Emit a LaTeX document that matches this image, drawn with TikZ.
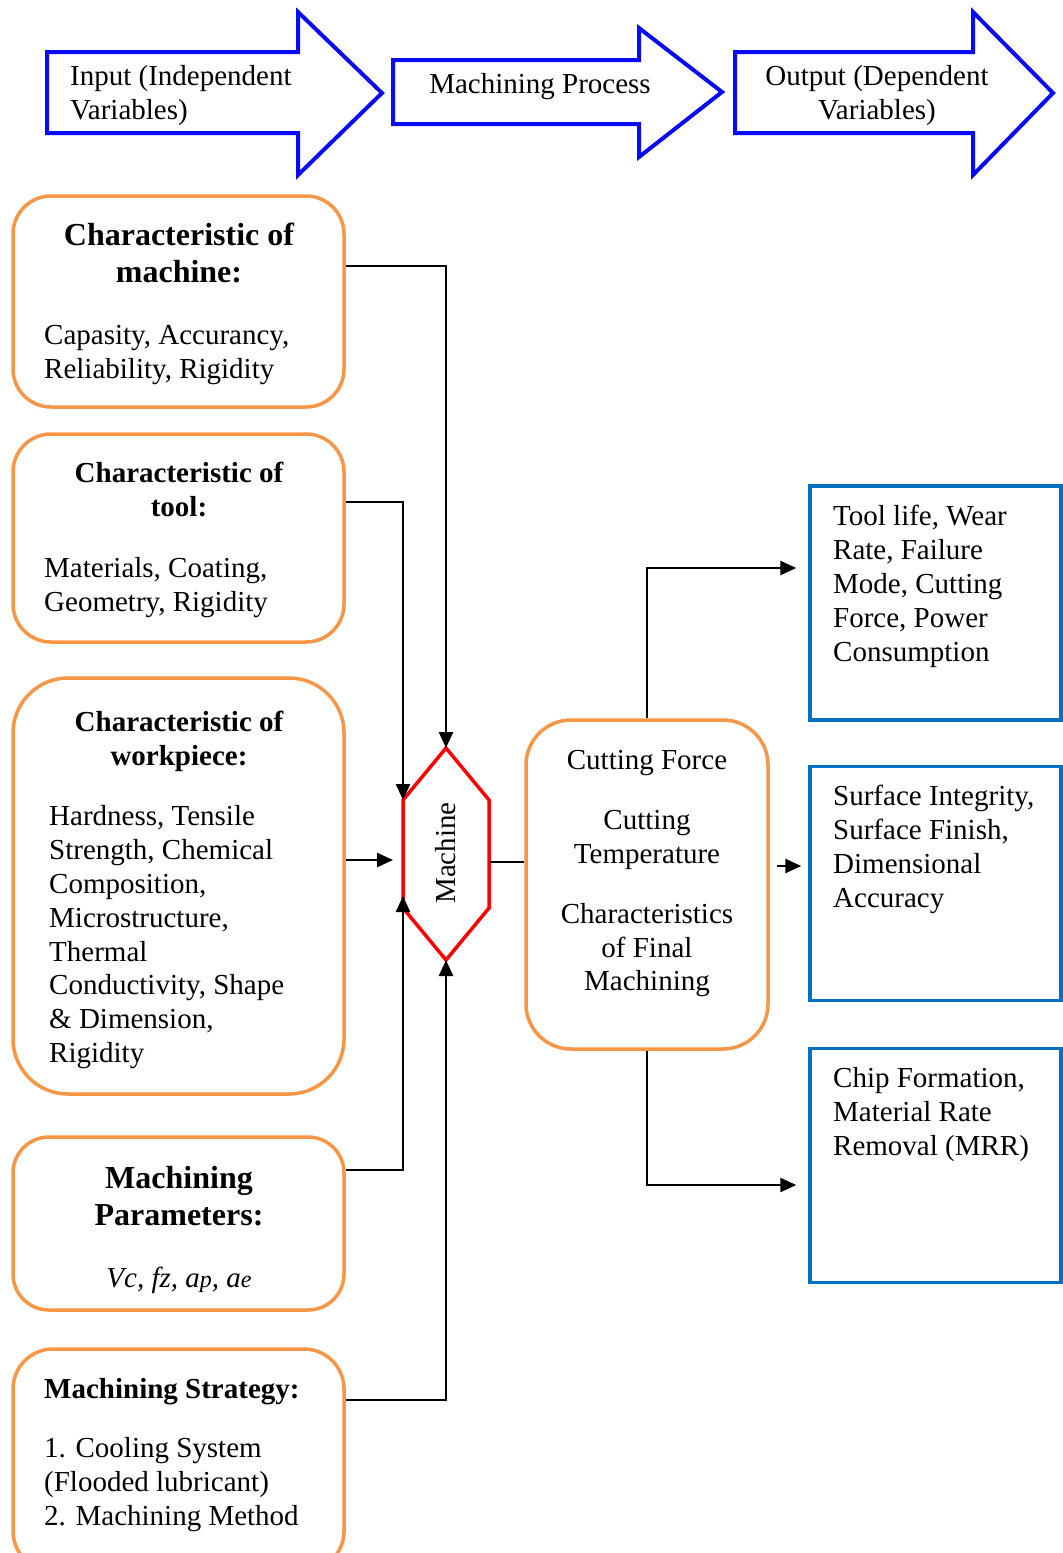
\documentclass[tikz,border=0pt]{standalone}
\usepackage{fontspec}
\setmainfont{Liberation Serif}
\usetikzlibrary{arrows.meta}
\definecolor{orng}{HTML}{F79646}
\definecolor{arrblue}{HTML}{0A0AF5}
\definecolor{boxblue}{HTML}{0070C0}
\definecolor{hexred}{HTML}{FF0000}
\newcommand\myfs{\fontsize{29}{33.8}\selectfont}
\newcommand\mybig{\fontsize{32}{36.5}\selectfont\bfseries}
\newcommand\mybold{\fontsize{29}{34.5}\selectfont\bfseries}
\begin{document}
\begin{tikzpicture}[x=1pt,y=-1pt,
  obox/.style={draw=orng, line width=3.5pt, minimum width=331pt, inner sep=0pt},
  bbox/.style={draw=boxblue, line width=3.5pt, minimum width=251pt, minimum height=234pt, inner sep=0pt},
  bigarrow/.style={draw=arrblue, line width=4pt, line join=miter},
  hexa/.style={draw=hexred, line width=3.5pt, line join=miter},
  conn/.style={line width=2.4pt, -{Triangle[length=16pt,width=14pt]}},
  plainline/.style={line width=2.2pt},
  ltxt/.style={inner sep=0pt, font=\myfs, align=left, anchor=north west},
  ctxt/.style={inner sep=0pt, font=\myfs, align=center, anchor=north},
]
\clip (0,0) rectangle (1063,1553);

% top arrows
\draw[bigarrow] (47,52) -- (298,52) -- (298,12) -- (382,93) -- (298,175) -- (298,133) -- (47,133) -- cycle;
\draw[bigarrow] (393,60) -- (639,60) -- (639,28) -- (722,92) -- (639,157) -- (639,124) -- (393,124) -- cycle;
\draw[bigarrow] (735,52) -- (973,52) -- (973,12) -- (1053,93) -- (973,175) -- (973,133) -- (735,133) -- cycle;
\node[ltxt] (tin) at (70,62) {\strut Input (Independent\\Variables)};
\node[ctxt] (tproc) at (540,70) {\strut Machining Process};
\node[ctxt] (tout) at (877,62) {\strut Output (Dependent\\Variables)};

% left orange boxes
\node[obox, minimum height=211pt, rounded corners=38pt] (box1) at (178.5,301.5) {};
\node[obox, minimum height=208pt, rounded corners=38pt] (box2) at (178.5,538) {};
\node[obox, minimum height=416pt, rounded corners=55pt] (box3) at (178.5,886) {};
\node[obox, minimum height=173pt, rounded corners=36pt] (box4) at (178.5,1223.5) {};
\node[obox, minimum height=222pt, rounded corners=40pt] (box5) at (178.5,1460) {};

\node[ctxt, font=\mybig] (t1h) at (179,220) {\strut Characteristic of\\machine:};
\node[ltxt] (t1b) at (44,321) {\strut Capasity, Accurancy,\\Reliability, Rigidity};
\node[ctxt, font=\mybold] (t2h) at (179,458) {\strut Characteristic of\\tool:};
\node[ltxt] (t2b) at (44,554) {\strut Materials, Coating,\\Geometry, Rigidity};
\node[ctxt, font=\mybold] (t3h) at (179,707) {\strut Characteristic of\\workpiece:};
\node[ltxt] (t3b) at (49,802) {\strut Hardness, Tensile\\Strength, Chemical\\Composition,\\Microstructure,\\Thermal\\Conductivity, Shape\\\& Dimension,\\Rigidity};
\node[ctxt, font=\mybig] (t4h) at (179,1163) {\strut Machining\\Parameters:};
\node[ctxt] (t4b) at (179,1264) {\strut\itshape Vc, fz, a{\fontsize{24}{24}\selectfont p}, a{\fontsize{24}{24}\selectfont e}};
\node[ltxt, font=\mybold] (t5h) at (44,1374) {\strut Machining Strategy:};
\node[ltxt] (t5b) at (44,1434) {\strut 1. Cooling System\\(Flooded lubricant)\\2. Machining Method};

% hexagon
\coordinate (htop) at (446,748);
\coordinate (hur) at (489,800);
\coordinate (hlr) at (489,908);
\coordinate (hbot) at (446,960);
\coordinate (hll) at (403,908);
\coordinate (hul) at (403,800);
\coordinate (hmr) at (489,862);
\coordinate (hin) at (393,860);
\coordinate (hlin) at (403,896);
\draw[hexa] (htop) -- (hur) -- (hlr) -- (hbot) -- (hll) -- (hul) -- cycle;
\node[inner sep=0pt, font=\myfs, rotate=90] (machine) at (446,853) {Machine};

% center box
\node[obox, minimum width=242pt, minimum height=329pt, rounded corners=45pt] (cbox) at (647,884.5) {};
\node[ctxt] (tc) at (647,746) {\strut Cutting Force\\[26pt]Cutting\\Temperature\\[26pt]Characteristics\\of Final\\Machining};

% right blue boxes
\node[bbox] (bA) at (935.5,603) {};
\node[bbox] (bB) at (935.5,883.5) {};
\node[bbox] (bC) at (935.5,1165.5) {};
\node[ltxt] (tA) at (833,502) {\strut Tool life, Wear\\Rate, Failure\\Mode, Cutting\\Force, Power\\Consumption};
\node[ltxt] (tB) at (833,782) {\strut Surface Integrity,\\Surface Finish,\\Dimensional\\Accuracy};
\node[ltxt] (tC) at (833,1064) {\strut Chip Formation,\\Material Rate\\Removal (MRR)};

% connectors
\draw[conn] (box1.east |- 0,266) -| (htop);
\draw[conn] (box2.east |- 0,502) -| (hul);
\draw[conn] (box3.east |- 0,860) -- (hin);
\draw[conn] (box4.east |- 0,1170) -| (hlin);
\draw[conn] (box5.east |- 0,1400) -| (hbot);
\draw[plainline] (hmr) -- (cbox.west |- hmr);
\draw[conn, shorten >=12pt] (cbox.north) |- (bA.west |- 0,568);
\draw[conn, shorten <=7pt, shorten >=7pt] (cbox.east |- 0,866) -- (bB.west |- 0,866);
\draw[conn, shorten >=12pt] (cbox.south) |- (bC.west |- 0,1185);
\end{tikzpicture}
\end{document}
